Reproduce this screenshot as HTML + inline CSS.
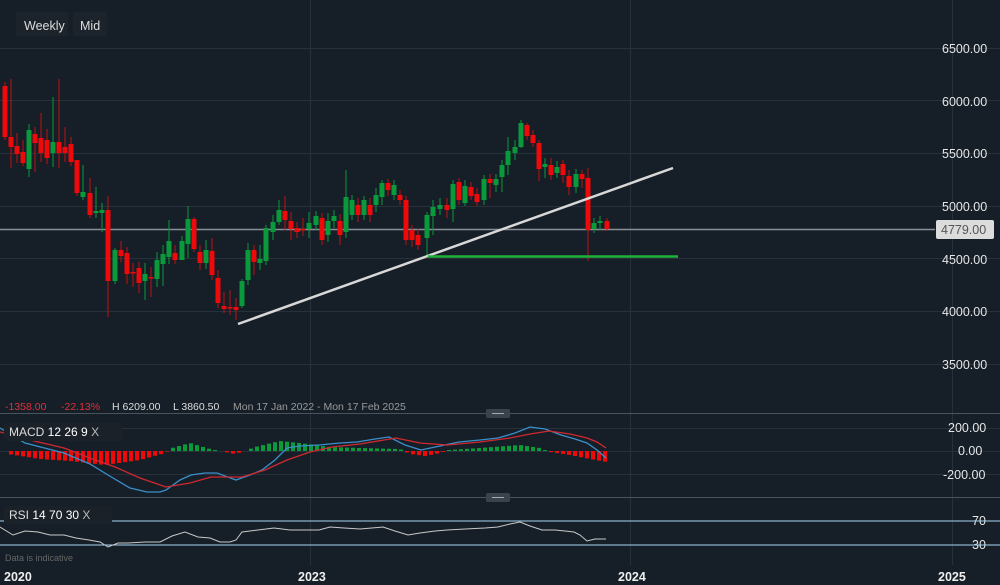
<!DOCTYPE html>
<html><head><meta charset="utf-8"><style>
html,body{margin:0;padding:0;background:#161f28;width:1000px;height:585px;overflow:hidden;font-family:"Liberation Sans",sans-serif}
svg{display:block}
</style></head><body>
<svg id="s" width="1000" height="585" xmlns="http://www.w3.org/2000/svg" font-family="Liberation Sans, sans-serif">
<rect width="1000" height="585" fill="#161f28"/>
<g stroke="#28313b" stroke-width="1">
<line x1="0" y1="48.5" x2="1000" y2="48.5"/>
<line x1="0" y1="100.5" x2="1000" y2="100.5"/>
<line x1="0" y1="153.5" x2="1000" y2="153.5"/>
<line x1="0" y1="206.5" x2="1000" y2="206.5"/>
<line x1="0" y1="258.5" x2="1000" y2="258.5"/>
<line x1="0" y1="311.5" x2="1000" y2="311.5"/>
<line x1="0" y1="364.5" x2="1000" y2="364.5"/>
<line x1="310.5" y1="0" x2="310.5" y2="565"/>
<line x1="630.5" y1="0" x2="630.5" y2="565"/>
<line x1="952.5" y1="0" x2="952.5" y2="565"/>
<line x1="0" y1="428.5" x2="1000" y2="428.5"/>
<line x1="0" y1="451.5" x2="1000" y2="451.5"/>
<line x1="0" y1="474.5" x2="1000" y2="474.5"/>
</g>
<line x1="0" y1="413.5" x2="1000" y2="413.5" stroke="#4a525b"/>
<line x1="0" y1="497.5" x2="1000" y2="497.5" stroke="#4a525b"/>
<rect x="486" y="409" width="24" height="9" rx="2" fill="#3a424c"/><line x1="492" y1="413.5" x2="504" y2="413.5" stroke="#aaa"/>
<rect x="486" y="493" width="24" height="9" rx="2" fill="#3a424c"/><line x1="492" y1="497.5" x2="504" y2="497.5" stroke="#aaa"/>
<line x1="0" y1="229.5" x2="935" y2="229.5" stroke="#8a8f95" stroke-width="1.5"/>
<g id="candles"></g>
<line x1="238" y1="324" x2="673" y2="168" stroke="#d8d8d8" stroke-width="2.5"/>
<line x1="428" y1="256.5" x2="678" y2="256.5" stroke="#1db33a" stroke-width="2.5"/>
<g fill="#e6e6e6" font-size="12.5">
<text x="942" y="53">6500.00</text><text x="942" y="106">6000.00</text><text x="942" y="158">5500.00</text>
<text x="942" y="211">5000.00</text><text x="942" y="264">4500.00</text><text x="942" y="316">4000.00</text><text x="942" y="369">3500.00</text>
<text x="948" y="432">200.00</text><text x="958" y="455">0.00</text><text x="943" y="479">-200.00</text>
<text x="972" y="525">70</text><text x="972" y="549">30</text>
</g>
<rect x="936" y="220" width="58" height="19" rx="2" fill="#dcdcdc"/>
<text x="941" y="234" fill="#555" font-size="12.5">4779.00</text>
<rect x="16" y="12" width="52" height="24" fill="#1c232a"/><text x="24" y="30" fill="#ddd" font-size="12.5">Weekly</text>
<rect x="73" y="12" width="34" height="24" fill="#1c232a"/><text x="80" y="30" fill="#ddd" font-size="12.5">Mid</text>
<g font-size="10.5">
<text x="5" y="410" fill="#e0303a">-1358.00</text><text x="61" y="410" fill="#e0303a">-22.13%</text>
<text x="112" y="410" fill="#ddd">H 6209.00</text><text x="173" y="410" fill="#ddd">L 3860.50</text>
<text x="233" y="410" fill="#999">Mon 17 Jan 2022 - Mon 17 Feb 2025</text>
</g>
<g id="macd"></g>
<line x1="0" y1="521" x2="1000" y2="521" stroke="#a8d4ef" stroke-width="1"/>
<line x1="0" y1="545" x2="1000" y2="545" stroke="#a8d4ef" stroke-width="1"/>
<polyline fill="none" stroke="#c8c8c8" stroke-width="1" points="0,527 13,535 25,531 38,532 50,535 64,535 76,538 89,540 100,542 108,547 118,543 128,543 145,542 160,542 172,536 185,532 198,537 210,538 220,542 230,542 236,540 242,532 258,530 274,528 290,530 305,530 319,530 330,527 344,528 360,529 383,527 395,531 408,535 420,533 435,531 447,530 465,529 485,528 498,527 510,524 520,522 530,526 542,530 555,530 565,531 574,532 580,535 587,541 595,539 606,539"/>
<rect x="4" y="423" width="118" height="18" fill="#1a2128"/>
<text x="9" y="436" fill="#ddd" font-size="12">MACD <tspan fill="#fff">12  26  9</tspan>  <tspan fill="#bbb">X</tspan></text>
<rect x="4" y="506" width="108" height="18" fill="#1a2128"/>
<text x="9" y="519" fill="#ddd" font-size="12">RSI <tspan fill="#fff">14  70  30</tspan>  <tspan fill="#bbb">X</tspan></text>
<text x="5" y="561" fill="#666" font-size="9">Data is indicative</text>
<g fill="#eee" font-size="12.5" font-weight="bold">
<text x="4" y="581">2020</text><text x="298" y="581">2023</text><text x="618" y="581">2024</text><text x="938" y="581">2025</text>
</g>
</svg>
<script>
var NS="http://www.w3.org/2000/svg";
function el(p,t,a){var e=document.createElementNS(NS,t);for(var k in a)e.setAttribute(k,a[k]);p.appendChild(e);return e;}
var C=[[5,86,137,82,140],[11,137,147,79,168],[17,146,154,133,163],[23,152,163,140,166],[29,169,130,124,177],[35,134,143,127,172],[41,138,153,113,162],[47,140,158,129,164],[53,153,142,97,167],[59,142,153,79,168],[65,147,153,127,162],[71,144,162,137,166],[77,160,193,165,196],[83,197,192,165,200],[90,193,215,178,218],[96,213,211,187,218],[102,213,210,203,232],[108,210,281,196,317],[115,281,250,248,284],[121,250,256,241,262],[127,253,274,247,284],[133,272,272,263,287],[139,268,283,262,293],[145,281,274,263,300],[151,277,278,267,297],[157,279,260,252,287],[163,264,254,245,286],[169,257,241,220,264],[175,253,260,245,264],[182,260,241,236,258],[188,244,219,206,258],[194,219,249,217,252],[200,252,263,245,270],[206,263,250,240,269],[212,251,275,238,280],[218,278,303,270,308],[224,306,309,292,313],[230,307,307,290,315],[236,307,310,298,320],[242,306,281,279,308],[248,280,250,243,285],[254,250,262,245,275],[260,263,259,245,270],[266,261,228,225,265],[273,232,222,215,240],[279,222,210,200,225],[285,211,220,196,230],[291,221,229,212,240],[297,228,232,222,238],[303,229,229,218,236],[309,229,223,212,238],[316,225,216,211,230],[322,218,240,213,245],[328,235,221,213,242],[334,221,216,210,228],[340,221,235,214,245],[346,232,197,170,238],[352,215,200,195,220],[358,205,215,198,222],[364,215,200,196,220],[370,205,215,198,222],[376,205,195,188,212],[382,197,183,180,205],[388,183,190,179,196],[394,195,185,180,200],[400,195,200,190,205],[406,200,240,196,245],[412,230,240,225,247],[418,235,245,229,250],[427,238,215,212,256],[433,216,207,200,235],[440,209,205,198,215],[447,205,210,198,218],[453,209,184,180,222],[459,182,200,178,205],[465,203,186,180,206],[471,187,196,182,200],[477,194,202,188,206],[484,200,179,175,205],[490,179,183,174,198],[496,185,179,174,192],[502,177,165,160,192],[508,165,151,137,175],[515,153,147,140,160],[521,147,123,120,148],[527,125,136,123,140],[533,135,143,130,147],[539,143,169,140,181],[545,167,164,158,178],[551,165,175,158,180],[557,173,167,161,178],[563,164,175,160,183],[569,176,187,170,195],[576,187,174,169,193],[582,174,179,170,188],[588,178,230,168,261],[594,229,223,218,233],[600,223,221,216,230],[607,221,229,218,231]];
var g=document.getElementById('candles');
C.forEach(function(c){var up=c[2]<c[1];var col=up?'#0a9a3c':'#ee0a0a';
el(g,'line',{x1:c[0],x2:c[0],y1:c[3],y2:c[4],stroke:up?'#0a9a3c':'#c01010','stroke-width':1});
var t=Math.min(c[1],c[2]),h=Math.max(1.5,Math.abs(c[2]-c[1]));el(g,'rect',{x:c[0]-2.5,y:t,width:5,height:h,fill:col});});
var m=document.getElementById('macd');
function hv(x){
 var pts=[[0,4],[8,-3],[40,-8],[70,-10],[105,-14],[140,-9],[165,-2],[172,3],[190,8],[210,2],[225,-1],[235,-3],[245,0],[255,4],[280,10],[300,8],[330,4],[360,3],[400,2],[410,-3],[425,-5],[440,-2],[448,1],[480,3],[520,6],[540,3],[550,-1],[570,-4],[590,-8],[607,-11]];
 for(var i=1;i<pts.length;i++)if(x<=pts[i][0]){var a=pts[i-1],b=pts[i];return a[1]+(b[1]-a[1])*(x-a[0])/(b[0]-a[0]);}return 0;}
for(var x=5;x<=607;x+=6){var v=hv(x);if(Math.abs(v)<0.5)continue;el(m,'rect',{x:x-2,y:v>0?451-v:451,width:4,height:Math.abs(v),fill:v>0?'#0a9a3c':'#ee0a0a'});}
el(m,'polyline',{fill:'none',stroke:'#3a8fc8','stroke-width':1.3,points:"0,428 25,443 64,453 90,464 108,475 130,488 147,492 160,492 166,490 180,480 191,475 205,473 217,473 236,480 250,475 262,470 275,460 287,448 300,446 319,445 340,443 357,442 375,439 389,437 405,445 421,450 440,446 459,442 480,440 498,438 515,433 530,427 545,429 561,435 575,439 587,443 597,450 606,458"});
el(m,'polyline',{fill:'none',stroke:'#d0282e','stroke-width':1.3,points:"0,432 30,440 64,448 90,458 115,467 140,478 166,487 190,483 211,477 242,477 265,470 287,460 310,452 332,447 360,444 396,438 420,443 447,445 480,442 510,438 530,434 549,431 570,434 587,438 597,442 606,448"});
</script>
</body></html>
